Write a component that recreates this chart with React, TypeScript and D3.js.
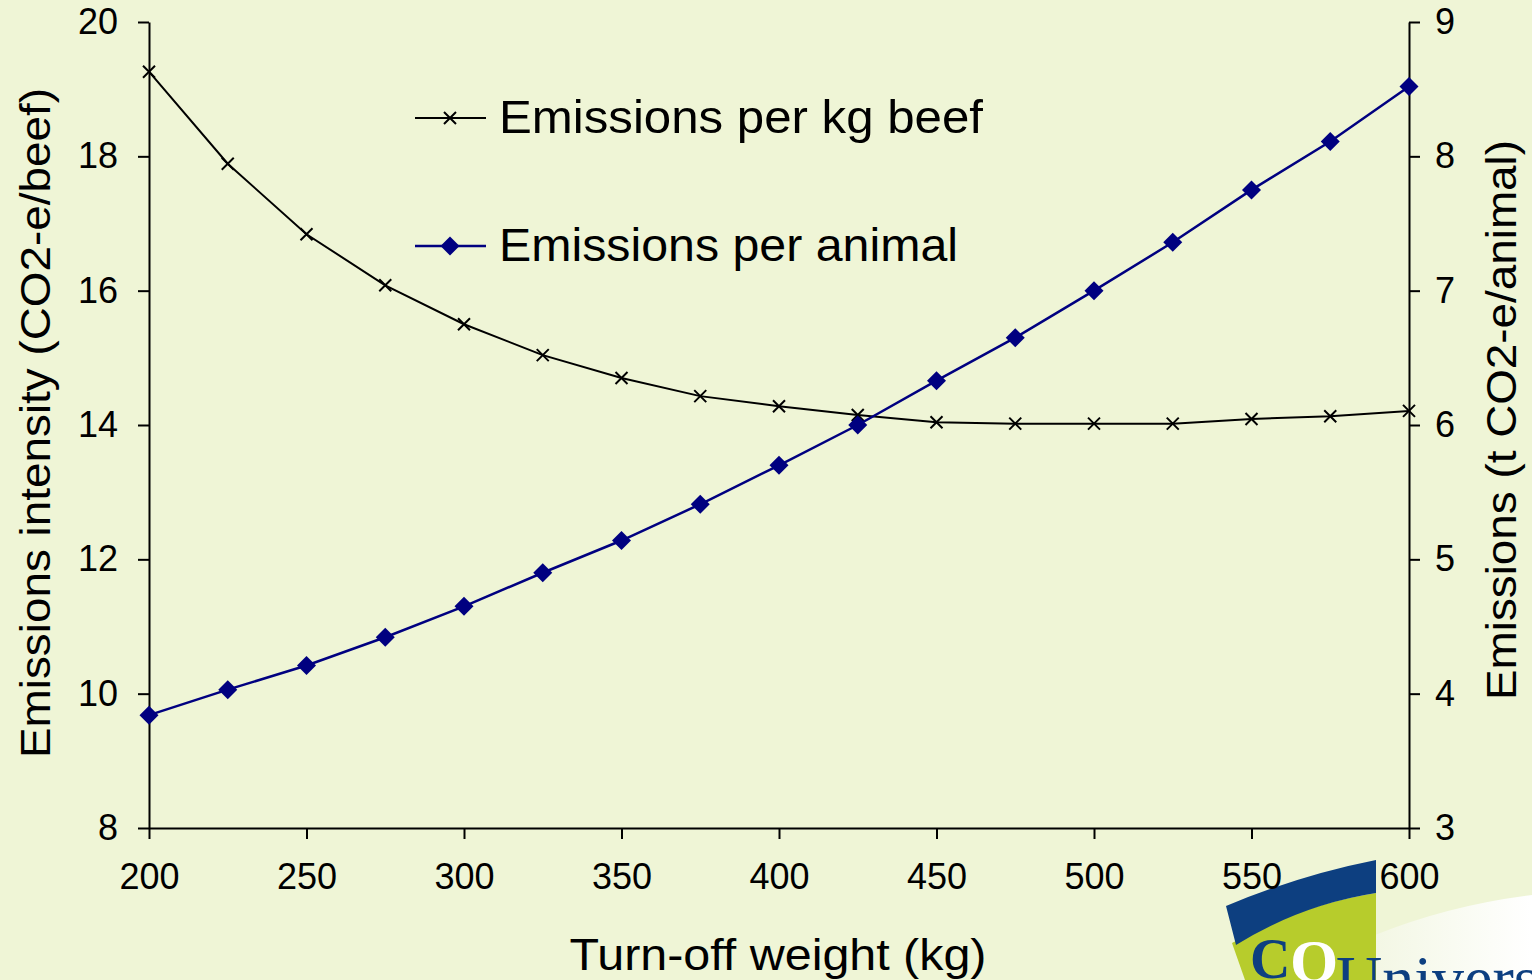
import React, { useRef, useEffect } from 'react';
import * as d3 from 'd3';

const weights = [200, 225, 250, 275, 300, 325, 350, 375, 400, 425, 450, 475, 500, 525, 550, 575, 600];
const perKgBeef = [19.26, 17.89, 16.84, 16.08, 15.5, 15.04, 14.7, 14.43, 14.28, 14.15, 14.04, 14.02, 14.02, 14.02, 14.09, 14.13, 14.21];
const perAnimal = [3.84, 4.03, 4.21, 4.42, 4.65, 4.9, 5.14, 5.41, 5.7, 6.0, 6.33, 6.65, 7.0, 7.36, 7.75, 8.11, 8.52];
const xTicks = [200, 250, 300, 350, 400, 450, 500, 550, 600];
const leftTicks = [8, 10, 12, 14, 16, 18, 20];
const rightTicks = [3, 4, 5, 6, 7, 8, 9];

const W = 1532;
const H = 980;
const BG = '#eff5d6';
const FONT = '"Liberation Sans", Arial, sans-serif';

export default function App() {
  const ref = useRef<SVGSVGElement>(null);

  useEffect(() => {
    if (!ref.current) return;
    const svg = d3.select(ref.current);
    svg.selectAll('*').remove();

    svg.append('rect').attr('width', W).attr('height', H).attr('fill', BG);

    const x = d3.scaleLinear().domain([200, 600]).range([149, 1409]);
    const yL = d3.scaleLinear().domain([8, 20]).range([828, 22]);
    const yR = d3.scaleLinear().domain([3, 9]).range([828, 22]);

    // logo (bottom right, partially cut off)
    const logo = svg.append('g');
    const grad = svg.append('defs').append('linearGradient').attr('id', 'swoosh')
      .attr('x1', 0).attr('y1', 0).attr('x2', 1).attr('y2', 0);
    grad.append('stop').attr('offset', '0%').attr('stop-color', '#f3f7e4');
    grad.append('stop').attr('offset', '100%').attr('stop-color', '#ffffff');
    logo.append('path')
      .attr('d', 'M1375,935 Q1450,905 1532,895 L1532,980 L1375,980 Z')
      .attr('fill', 'url(#swoosh)');
    logo.append('path')
      .attr('d', 'M1232,943 Q1300,905 1376,893 L1376,980 L1245,980 Z')
      .attr('fill', '#b7cc2c');
    logo.append('path')
      .attr('d', 'M1226,906 Q1300,875 1376,860 L1376,893 Q1300,905 1236,945 Z')
      .attr('fill', '#0d3f80');
    logo.append('text').attr('x', 1250).attr('y', 978)
      .attr('font-family', '"Liberation Serif", serif').attr('font-weight', 'bold')
      .attr('font-size', 56).attr('fill', '#0d3f80').text('C');
    logo.append('text').attr('x', 1290).attr('y', 982)
      .attr('font-family', '"Liberation Serif", serif').attr('font-weight', 'bold')
      .attr('font-size', 62).attr('fill', '#ffffff').text('Q');
    logo.append('text').attr('x', 1336).attr('y', 1000)
      .attr('font-family', '"Liberation Serif", serif')
      .attr('font-size', 64).attr('fill', '#0d3f80').text('Univers');

    const axisStyle = (g: any) => {
      g.select('.domain').attr('stroke', '#000').attr('stroke-width', 2);
      g.selectAll('.tick line').attr('stroke', '#000').attr('stroke-width', 2);
      g.selectAll('.tick text').attr('fill', '#000').attr('font-family', FONT).attr('font-size', 36);
    };

    svg.append('g').attr('transform', 'translate(0,828)')
      .call(d3.axisBottom(x).tickValues(xTicks).tickSize(11).tickSizeOuter(0).tickPadding(24))
      .call(axisStyle);
    svg.append('g').attr('transform', 'translate(149,0)')
      .call(d3.axisLeft(yL).tickValues(leftTicks).tickSize(11).tickSizeOuter(0).tickPadding(20))
      .call(axisStyle);
    svg.append('g').attr('transform', 'translate(1409,0)')
      .call(d3.axisRight(yR).tickValues(rightTicks).tickFormat(d3.format('d')).tickSize(11).tickSizeOuter(0).tickPadding(15))
      .call(axisStyle);

    // black series
    const lineL = d3.line<number>().x((_, i) => x(weights[i])).y(d => yL(d));
    svg.append('path').datum(perKgBeef).attr('d', lineL)
      .attr('fill', 'none').attr('stroke', '#000').attr('stroke-width', 2);
    const s = 6;
    svg.append('g').selectAll('path').data(perKgBeef).join('path')
      .attr('d', (d, i) => {
        const cx = x(weights[i]), cy = yL(d);
        return `M${cx - s},${cy - s}L${cx + s},${cy + s}M${cx - s},${cy + s}L${cx + s},${cy - s}`;
      })
      .attr('stroke', '#000').attr('stroke-width', 2);

    // blue series
    const lineR = d3.line<number>().x((_, i) => x(weights[i])).y(d => yR(d));
    svg.append('path').datum(perAnimal).attr('d', lineR)
      .attr('fill', 'none').attr('stroke', '#000080').attr('stroke-width', 2.5);
    const diamond = d3.symbol().type(d3.symbolDiamond2).size(230);
    svg.append('g').selectAll('path').data(perAnimal).join('path')
      .attr('transform', (d, i) => `translate(${x(weights[i])},${yR(d)})`)
      .attr('d', diamond as any)
      .attr('fill', '#000080');

    // legend
    const leg = svg.append('g');
    leg.append('line').attr('x1', 415).attr('x2', 486).attr('y1', 118).attr('y2', 118)
      .attr('stroke', '#000').attr('stroke-width', 2);
    leg.append('path').attr('d', `M${444},${112}L${456},${124}M${444},${124}L${456},${112}`)
      .attr('stroke', '#000').attr('stroke-width', 2);
    leg.append('text').attr('x', 499).attr('y', 133).attr('font-family', FONT)
      .attr('font-size', 47).attr('fill', '#000')
      .attr('textLength', 484).attr('lengthAdjust', 'spacingAndGlyphs')
      .text('Emissions per kg beef');
    leg.append('line').attr('x1', 415).attr('x2', 486).attr('y1', 246).attr('y2', 246)
      .attr('stroke', '#000080').attr('stroke-width', 2.5);
    leg.append('path').attr('transform', 'translate(450,246)').attr('d', diamond as any).attr('fill', '#000080');
    leg.append('text').attr('x', 499).attr('y', 261).attr('font-family', FONT)
      .attr('font-size', 47).attr('fill', '#000')
      .attr('textLength', 459).attr('lengthAdjust', 'spacingAndGlyphs')
      .text('Emissions per animal');

    // axis titles
    svg.append('text').attr('x', 778).attr('y', 970).attr('text-anchor', 'middle')
      .attr('font-family', FONT).attr('font-size', 45).attr('fill', '#000')
      .attr('textLength', 417).attr('lengthAdjust', 'spacingAndGlyphs')
      .text('Turn-off weight (kg)');
    svg.append('text').attr('transform', 'translate(50,423) rotate(-90)').attr('text-anchor', 'middle')
      .attr('font-family', FONT).attr('font-size', 42).attr('fill', '#000')
      .attr('textLength', 670).attr('lengthAdjust', 'spacingAndGlyphs')
      .text('Emissions intensity (CO2-e/beef)');
    svg.append('text').attr('transform', 'translate(1516,420) rotate(-90)').attr('text-anchor', 'middle')
      .attr('font-family', FONT).attr('font-size', 42).attr('fill', '#000')
      .attr('textLength', 560).attr('lengthAdjust', 'spacingAndGlyphs')
      .text('Emissions (t CO2-e/animal)');
  }, []);

  return (
    <div style={{ position: 'fixed', left: 0, top: 0 }}>
      <svg ref={ref} width={W} height={H} style={{ display: 'block' }} />
    </div>
  );
}
